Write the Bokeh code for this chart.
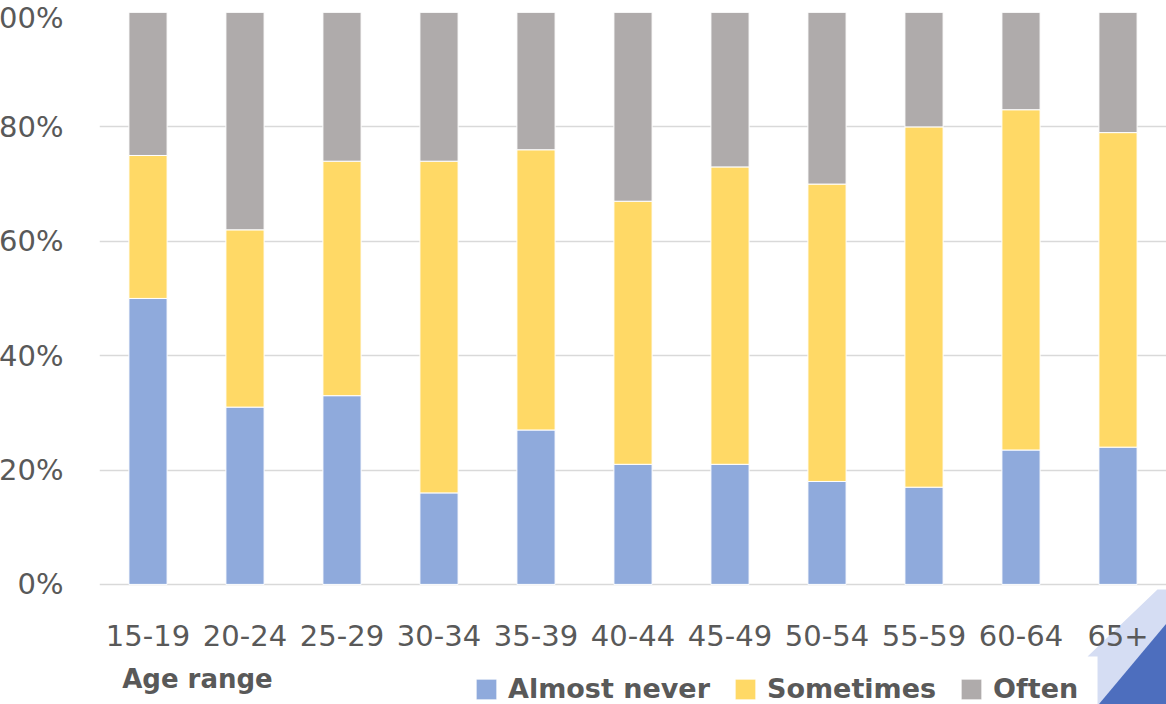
from bokeh.plotting import figure
from bokeh.models import (ColumnDataSource, FactorRange, Range1d, FixedTicker,
                          PrintfTickFormatter, Legend, LegendItem, Label, PolyAnnotation)
from bokeh.core.properties import value
from bokeh.embed import file_html
from bokeh.resources import INLINE

# Share of respondents (%) per age range
ages = ["15-19", "20-24", "25-29", "30-34", "35-39", "40-44",
        "45-49", "50-54", "55-59", "60-64", "65+"]
almost_never = [50, 31, 33, 16, 27, 21, 21, 18, 17, 23.5, 24]
sometimes = [25, 31, 41, 58, 49, 46, 52, 52, 63, 59.5, 55]
often = [25, 38, 26, 26, 24, 33, 27, 30, 20, 17, 21]
series = ["Almost never", "Sometimes", "Often"]
colors = ["#8FAADC", "#FFD966", "#AFABAB"]
y_ticks = [0, 20, 40, 60, 80, 100]

TEXT = "#595959"
FONT = "DejaVu Sans"
Y_BOTTOM = -21          # room under the bars for category labels and legend
LABEL_Y = -8.9          # baseline of the category labels

source = ColumnDataSource(data=dict(age=ages, never=almost_never,
                                    sometimes=sometimes, often=often,
                                    label_y=[LABEL_Y] * len(ages)))

p = figure(width=1189, height=704, output_backend="svg", toolbar_location=None,
           x_range=FactorRange(factors=ages), y_range=Range1d(Y_BOTTOM, 100),
           min_border_left=0, min_border_right=0, min_border_top=12,
           min_border_bottom=0, outline_line_color=None,
           margin=(0, 0, 0, -23))

# corner ribbon decoration, kept behind the labels
ribbon_light_x = [10.186, 10.289, 10.289, 11.0, 11.0, 10.907]
ribbon_light_y = [-12.59, -12.59, -21.0, -21.0, -0.87, -0.87]
ribbon_dark_x = [10.30, 11.0, 11.0]
ribbon_dark_y = [-21.0, -6.82, -21.0]
p.add_layout(PolyAnnotation(xs=ribbon_light_x, ys=ribbon_light_y, level="underlay",
                            fill_color="#D5DDF3", fill_alpha=1, line_color=None))
p.add_layout(PolyAnnotation(xs=ribbon_dark_x, ys=ribbon_dark_y, level="underlay",
                            fill_color="#4D6EBE", fill_alpha=1, line_color=None))

renderers = p.vbar_stack(["never", "sometimes", "often"], x="age", width=0.394,
                         color=colors, line_color="white", line_width=1,
                         source=source)

# category labels under the bars
p.text(x="age", y="label_y", text="age", source=source,
       text_font=value(FONT), text_font_size="29px", text_color=TEXT,
       text_align="center", text_baseline="alphabetic")

# y axis
p.xaxis.visible = False
p.yaxis.ticker = FixedTicker(ticks=y_ticks)
p.yaxis.formatter = PrintfTickFormatter(format="%d%%")
p.yaxis.axis_line_color = None
p.yaxis.major_tick_line_color = None
p.yaxis.minor_tick_line_color = None
p.yaxis.major_tick_out = 0
p.yaxis.major_tick_in = 0
p.yaxis.major_label_text_font = FONT
p.yaxis.major_label_text_font_size = "29px"
p.yaxis.major_label_text_color = TEXT
p.yaxis.major_label_standoff = 36

p.xgrid.grid_line_color = None
p.ygrid.grid_line_color = "#D9D9D9"
p.ygrid.grid_line_width = 1.5

# axis title, left aligned under the category labels
p.add_layout(Label(x=0.234, y=-16.6, text="Age range", text_font=FONT,
                   text_font_style="bold", text_font_size="26px",
                   text_color=TEXT, text_align="left",
                   text_baseline="alphabetic"))

legend = Legend(items=[LegendItem(label=s, renderers=[r])
                       for s, r in zip(series, renderers)],
                orientation="horizontal", location=(374, 0),
                glyph_width=26, glyph_height=26, label_standoff=9,
                spacing=22, padding=0, margin=0,
                border_line_color=None, background_fill_alpha=0,
                label_text_font=FONT, label_text_font_style="bold",
                label_text_font_size="27px", label_text_color=TEXT)
p.add_layout(legend)

open("out.html", "w").write(file_html(p, INLINE))
